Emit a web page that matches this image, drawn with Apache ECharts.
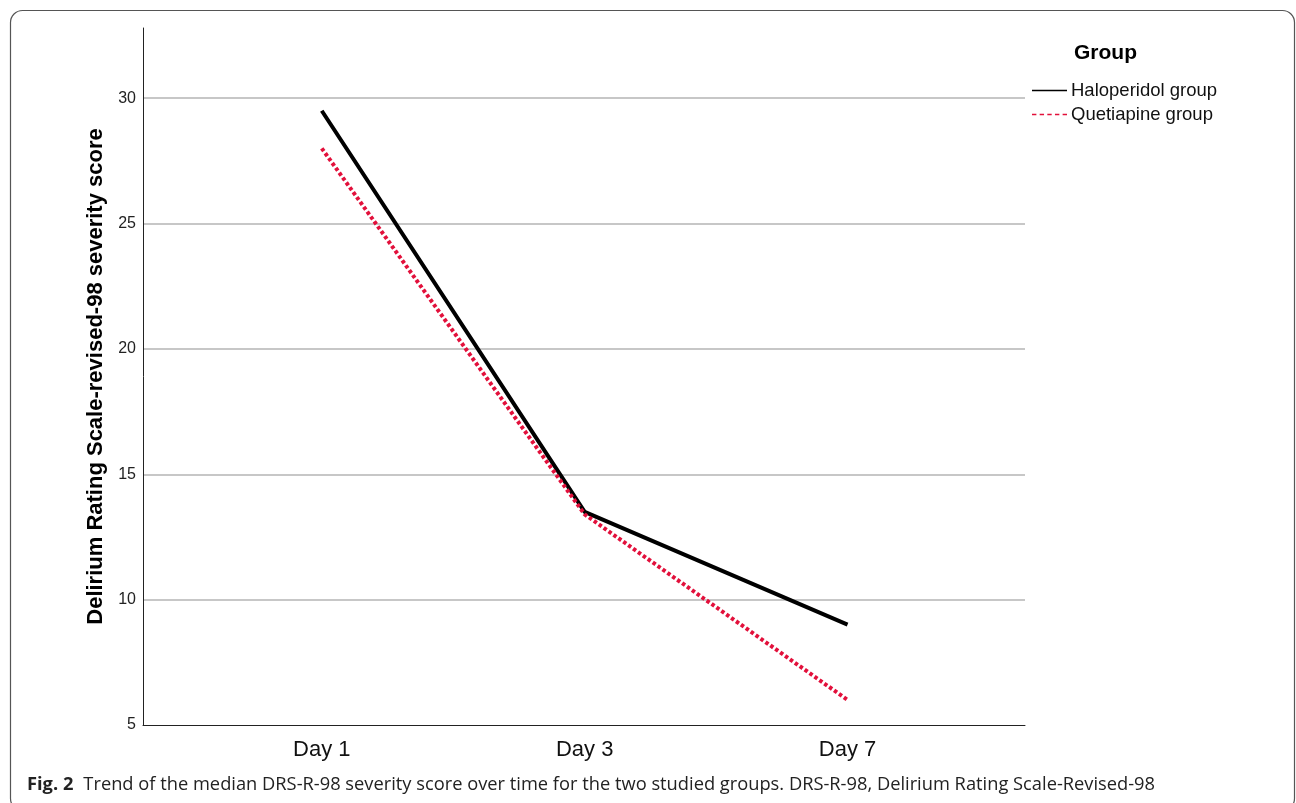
<!DOCTYPE html>
<html>
<head>
<meta charset="utf-8">
<script src="https://cdn.jsdelivr.net/npm/echarts@6/dist/echarts.min.js"></script>
<style>
html,body{margin:0;padding:0;background:#fff;}
#c{width:1296px;height:803px;}
</style>
</head>
<body>
<div id="c"></div>
<script>
const categories = ['Day 1', 'Day 3', 'Day 7'];
const haloperidol = [29.5, 13.5, 9.0];
const quetiapine = [28.0, 13.4, 6.0];
const yTicks = [5, 10, 15, 20, 25, 30];
const seriesNames = ['Haloperidol group', 'Quetiapine group'];

const chart = echarts.init(document.getElementById('c'));
const toPts = arr => arr.map((v, i) => [i, v]);

chart.setOption({
  animation: false,
  backgroundColor: '#fff',
  grid: { left: 143, right: 271, top: 28, bottom: 78, containLabel: false },
  title: [
    { text: 'Group', left: 1069, top: 38, textStyle: { fontFamily: 'Arial, Liberation Sans', fontWeight: 'bold', fontSize: 21, color: '#000' } },
    {
      text: '{b|Fig. 2}  {n|Trend of the median DRS-R-98 severity score over time for the two studied groups. DRS-R-98, Delirium Rating Scale-Revised-98}',
      left: 22, top: 771,
      textStyle: {
        rich: {
          b: { fontFamily: 'Open Sans', fontWeight: 'bold', fontSize: 18.3, color: '#222' },
          n: { fontFamily: 'Open Sans', fontWeight: 'normal', fontSize: 18.3, color: '#222' }
        }
      }
    }
  ],
  legend: {
    orient: 'vertical', left: 1027, top: 76,
    itemWidth: 35, itemHeight: 14, itemGap: 5,
    textStyle: { fontFamily: 'Arial, Liberation Sans', fontSize: 18.5, color: '#111', lineHeight: 18, padding: [0, 0, 0, -1] },
    data: [
      { name: seriesNames[0], icon: 'path://M0,6L35,6L35,7.5L0,7.5Z', itemStyle: { color: '#000' } },
      { name: seriesNames[1], icon: 'path://M0,6L4,6L4,7.5L0,7.5Z M7,6L11,6L11,7.5L7,7.5Z M14,6L18,6L18,7.5L14,7.5Z M21,6L25,6L25,7.5L21,7.5Z M28,6L32,6L32,7.5L28,7.5Z', itemStyle: { color: '#e2103b' } }
    ]
  },
  xAxis: {
    type: 'value', min: -0.68, max: 2.675,
    axisLine: { show: true, onZero: false, lineStyle: { color: '#222', width: 1 } },
    axisTick: { show: false },
    splitLine: { show: false },
    axisLabel: {
      customValues: [0, 1, 2],
      formatter: v => categories[Math.round(v)] || '',
      fontFamily: 'Arial, Liberation Sans', fontSize: 22, color: '#111', margin: 14
    }
  },
  yAxis: {
    type: 'value', min: 5, max: 32.8, interval: 5,
    name: 'Delirium Rating Scale-revised-98 severity score',
    nameLocation: 'middle', nameGap: 35,
    nameTextStyle: { fontFamily: 'Arial, Liberation Sans', fontWeight: 'bold', fontSize: 22, color: '#000' },
    axisLine: { show: true, onZero: false, lineStyle: { color: '#222', width: 1 } },
    axisTick: { show: false },
    axisLabel: {
      customValues: yTicks,
      fontFamily: 'Arial, Liberation Sans', fontSize: 16, color: '#222', margin: 7,
      verticalAlign: 'middle', padding: [6, 0, 0, 0]
    },
    splitLine: { show: true, showMinLine: false, showMaxLine: false, lineStyle: { color: '#b4b4b4', width: 1.5 } }
  },
  series: [
    {
      name: seriesNames[0], type: 'line', data: toPts(haloperidol), symbol: 'none',
      lineStyle: { color: '#000', width: 4 }, itemStyle: { color: '#000' }
    },
    {
      name: seriesNames[1], type: 'line', data: toPts(quetiapine), symbol: 'none',
      lineStyle: { color: '#e2103b', width: 4, type: [3.5, 2.5] }, itemStyle: { color: '#e2103b' }
    }
  ],
  graphic: [
    { type: 'rect', shape: { x: 10.5, y: 10.5, width: 1284, height: 800, r: 12 }, style: { fill: 'none', stroke: '#555', lineWidth: 1.2 }, silent: true }
  ]
});
</script>
</body>
</html>
